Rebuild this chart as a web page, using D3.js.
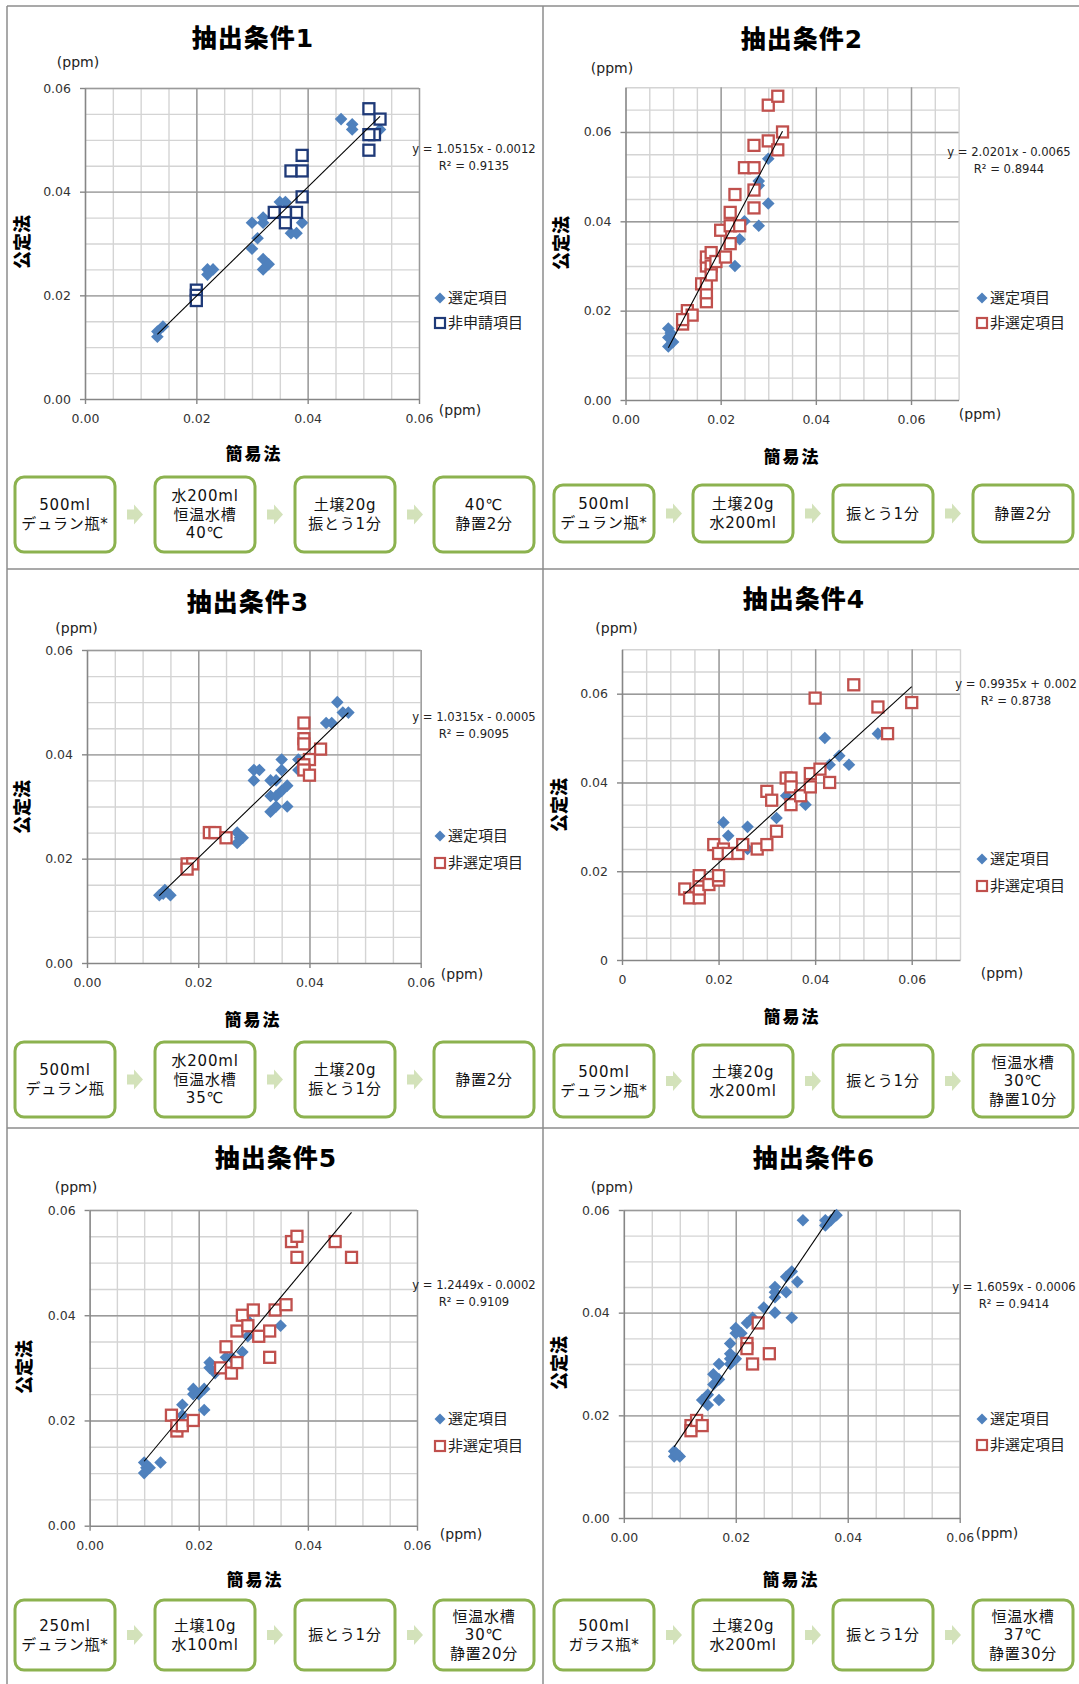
<!DOCTYPE html>
<html>
<head>
<meta charset="utf-8">
<script src="https://cdn.jsdelivr.net/npm/d3@7"></script>
<style>
  body { margin: 0; background: #fff; }
  svg text { font-family: "DejaVu Sans", "Noto Sans CJK JP", sans-serif; fill: #222; }
</style>
</head>
<body>
<svg id="chart" width="1079" height="1684"></svg>
<script>
// ---- data ----
const titles = ["抽出条件1", "抽出条件2", "抽出条件3", "抽出条件4", "抽出条件5", "抽出条件6"];
const otherNames = ["非申請項目", "非選定項目", "非選定項目", "非選定項目", "非選定項目", "非選定項目"];
const slopes = [1.0515, 2.0201, 1.0315, 0.9935, 1.2449, 1.6059];
const intercepts = [-0.0012, -0.0065, -0.0005, 0.002, -0.0002, -0.0006];
const eqLabels = ["y = 1.0515x - 0.0012", "y = 2.0201x - 0.0065", "y = 1.0315x - 0.0005",
  "y = 0.9935x + 0.002", "y = 1.2449x - 0.0002", "y = 1.6059x - 0.0006"];
const r2Labels = ["R² = 0.9135", "R² = 0.8944", "R² = 0.9095", "R² = 0.8738", "R² = 0.9109", "R² = 0.9414"];
const axisMax = [0.06, 0.07, 0.06, 0.07, 0.06, 0.06];

// [簡易法, 公定法] pairs (ppm)
const selected1 = [[0.013,0.012],[0.014,0.014],[0.013,0.013],[0.022,0.025],[0.023,0.025],[0.022,0.024],
  [0.030,0.029],[0.030,0.034],[0.031,0.031],[0.032,0.035],[0.032,0.034],[0.032,0.027],[0.033,0.026],
  [0.032,0.025],[0.035,0.038],[0.036,0.038],[0.037,0.032],[0.038,0.032],[0.039,0.034],[0.046,0.054],
  [0.048,0.053],[0.048,0.052],[0.053,0.052]];
const other1 = [[0.020,0.021],[0.020,0.020],[0.020,0.019],[0.034,0.036],[0.036,0.036],[0.038,0.036],
  [0.036,0.034],[0.037,0.044],[0.039,0.044],[0.039,0.047],[0.039,0.039],[0.051,0.056],[0.053,0.054],
  [0.052,0.051],[0.051,0.051],[0.051,0.048]];

const selected2 = [[0.009,0.012],[0.009,0.014],[0.009,0.016],[0.010,0.013],[0.0095,0.015],[0.023,0.030],
  [0.024,0.036],[0.025,0.040],[0.028,0.039],[0.028,0.049],[0.028,0.048],[0.030,0.044],[0.030,0.054]];
const other2 = [[0.012,0.017],[0.013,0.020],[0.014,0.019],[0.012,0.018],[0.016,0.026],[0.017,0.022],
  [0.017,0.024],[0.017,0.026],[0.017,0.030],[0.017,0.032],[0.018,0.033],[0.018,0.030],[0.018,0.028],
  [0.019,0.031],[0.021,0.032],[0.020,0.038],[0.022,0.035],[0.022,0.039],[0.022,0.042],[0.024,0.039],
  [0.023,0.046],[0.025,0.052],[0.027,0.052],[0.027,0.047],[0.027,0.043],[0.027,0.057],[0.030,0.058],
  [0.030,0.066],[0.032,0.068],[0.032,0.056],[0.033,0.060]];

const selected3 = [[0.013,0.013],[0.014,0.014],[0.015,0.013],[0.0137,0.0133],[0.027,0.025],[0.027,0.023],
  [0.028,0.024],[0.0275,0.024],[0.030,0.037],[0.031,0.037],[0.030,0.035],[0.033,0.035],[0.034,0.035],
  [0.033,0.032],[0.034,0.032],[0.033,0.029],[0.034,0.030],[0.035,0.039],[0.035,0.037],[0.035,0.033],
  [0.036,0.034],[0.036,0.030],[0.038,0.039],[0.038,0.037],[0.043,0.046],[0.044,0.046],[0.045,0.050],
  [0.046,0.048],[0.047,0.048]];
const other3 = [[0.018,0.019],[0.019,0.019],[0.018,0.018],[0.022,0.025],[0.023,0.025],[0.025,0.024],
  [0.039,0.046],[0.039,0.043],[0.039,0.042],[0.040,0.039],[0.039,0.038],[0.039,0.037],[0.040,0.036],
  [0.042,0.041]];

const selected4 = [[0.021,0.031],[0.022,0.028],[0.026,0.030],[0.026,0.025],[0.032,0.032],[0.034,0.037],
  [0.038,0.035],[0.042,0.050],[0.043,0.044],[0.045,0.046],[0.047,0.044],[0.053,0.051]];
const other4 = [[0.013,0.016],[0.014,0.014],[0.016,0.014],[0.016,0.016],[0.016,0.018],[0.016,0.019],
  [0.018,0.017],[0.020,0.018],[0.020,0.019],[0.019,0.026],[0.021,0.025],[0.020,0.024],[0.022,0.024],
  [0.024,0.024],[0.025,0.026],[0.028,0.025],[0.030,0.026],[0.032,0.029],[0.030,0.038],[0.031,0.036],
  [0.034,0.041],[0.035,0.041],[0.035,0.039],[0.035,0.035],[0.037,0.037],[0.039,0.042],[0.039,0.039],
  [0.041,0.043],[0.043,0.040],[0.040,0.059],[0.048,0.062],[0.053,0.057],[0.055,0.051],[0.060,0.058]];

const selected5 = [[0.010,0.010],[0.010,0.012],[0.0104,0.011],[0.011,0.011],[0.013,0.012],[0.017,0.023],
  [0.017,0.021],[0.019,0.026],[0.019,0.025],[0.020,0.025],[0.021,0.026],[0.021,0.022],[0.022,0.031],
  [0.022,0.030],[0.023,0.029],[0.025,0.032],[0.026,0.032],[0.028,0.033],[0.029,0.036],[0.029,0.039],
  [0.035,0.038]];
const other5 = [[0.015,0.021],[0.016,0.018],[0.016,0.019],[0.017,0.019],[0.019,0.020],[0.024,0.030],
  [0.025,0.034],[0.026,0.029],[0.027,0.031],[0.027,0.037],[0.028,0.040],[0.029,0.038],[0.030,0.041],
  [0.031,0.036],[0.033,0.037],[0.033,0.032],[0.034,0.041],[0.036,0.042],[0.037,0.054],[0.038,0.055],
  [0.038,0.051],[0.045,0.054],[0.048,0.051]];

const selected6 = [[0.009,0.012],[0.009,0.013],[0.010,0.012],[0.0094,0.0125],[0.014,0.023],[0.015,0.024],
  [0.015,0.022],[0.017,0.023],[0.016,0.028],[0.016,0.026],[0.017,0.027],[0.017,0.030],[0.019,0.031],
  [0.019,0.032],[0.019,0.030],[0.020,0.031],[0.019,0.034],[0.020,0.036],[0.020,0.037],[0.021,0.036],
  [0.022,0.038],[0.023,0.039],[0.025,0.041],[0.027,0.045],[0.027,0.044],[0.027,0.043],[0.027,0.040],
  [0.029,0.047],[0.030,0.048],[0.029,0.044],[0.030,0.039],[0.031,0.046],[0.032,0.058],[0.036,0.058],
  [0.036,0.057],[0.037,0.058],[0.038,0.059]];
const other6 = [[0.012,0.018],[0.012,0.017],[0.013,0.019],[0.014,0.018],[0.022,0.034],[0.022,0.033],
  [0.023,0.030],[0.024,0.038],[0.026,0.032]];

const selectedSets = [selected1, selected2, selected3, selected4, selected5, selected6];
const otherSets = [other1, other2, other3, other4, other5, other6];

// extraction steps (簡易法) under each chart
const steps1 = [["500ml", "デュラン瓶*"], ["水200ml", "恒温水槽", "40℃"], ["土壌20g", "振とう1分"], ["40℃", "静置2分"]];
const steps2 = [["500ml", "デュラン瓶*"], ["土壌20g", "水200ml"], ["振とう1分"], ["静置2分"]];
const steps3 = [["500ml", "デュラン瓶"], ["水200ml", "恒温水槽", "35℃"], ["土壌20g", "振とう1分"], ["静置2分"]];
const steps4 = [["500ml", "デュラン瓶*"], ["土壌20g", "水200ml"], ["振とう1分"], ["恒温水槽", "30℃", "静置10分"]];
const steps5 = [["250ml", "デュラン瓶*"], ["土壌10g", "水100ml"], ["振とう1分"], ["恒温水槽", "30℃", "静置20分"]];
const steps6 = [["500ml", "ガラス瓶*"], ["土壌20g", "水200ml"], ["振とう1分"], ["恒温水槽", "37℃", "静置30分"]];
const stepSets = [steps1, steps2, steps3, steps4, steps5, steps6];

// ---- layout (pixel positions per panel) ----
const leftBoxes = [15, 155, 295, 434], rightBoxes = [554, 693, 833, 973];
const layout = [
  { px: [85, 419], py: [88, 399], title: [253, 38.5], yUnit: [78, 62], xUnit: [460, 410], eq: [474, 149],
    legend: [440, 298, 323], yTitle: [22, 242], xTitle: [254, 454], bx: leftBoxes, by: 477, bh: 75 },
  { px: [625.5, 958.6], py: [87.3, 400], title: [802, 39], yUnit: [612, 68], xUnit: [980, 414], eq: [1009, 152],
    legend: [982, 298, 323], yTitle: [561, 243], xTitle: [792, 457], bx: rightBoxes, by: 485, bh: 57 },
  { px: [87, 420.7], py: [650, 963], title: [248, 602.5], yUnit: [76.5, 628], xUnit: [462, 974], eq: [474, 717],
    legend: [440, 836, 863], yTitle: [22, 807], xTitle: [253, 1020], bx: leftBoxes, by: 1042, bh: 75 },
  { px: [622, 960], py: [649.3, 960], title: [804, 599], yUnit: [616.5, 628], xUnit: [1002, 973], eq: [1016, 684],
    legend: [982, 859, 886], yTitle: [559, 805], xTitle: [792, 1017], bx: rightBoxes, by: 1045, bh: 72, zeroPlain: true },
  { px: [89.6, 417], py: [1210, 1525.7], title: [276, 1158], yUnit: [76, 1187], xUnit: [461, 1534], eq: [474, 1285],
    legend: [440, 1419, 1446], yTitle: [24, 1367], xTitle: [255, 1580], bx: leftBoxes, by: 1600, bh: 70 },
  { px: [623.8, 959.7], py: [1210, 1518], title: [814, 1158], yUnit: [612, 1187], xUnit: [997, 1533], eq: [1014, 1287],
    legend: [982, 1419, 1445], yTitle: [559, 1363], xTitle: [791, 1580], bx: rightBoxes, by: 1600, bh: 70 }
];

const blue = "#4F81BD", navy = "#1F3A78", red = "#C0504D";
const boxGreen = "#8CB24F", arrowGreen = "#D3E2BA";

const svg = d3.select("#chart");
svg.append("rect").attr("width", 1079).attr("height", 1684).attr("fill", "#fff");

// panel frame
const frame = svg.append("g").attr("stroke", "#8c8c8c").attr("stroke-width", 1.5);
frame.append("line").attr("x1", 7).attr("y1", 6).attr("x2", 1079).attr("y2", 6);
frame.append("line").attr("x1", 7).attr("y1", 6).attr("x2", 7).attr("y2", 1684);
frame.append("line").attr("x1", 543).attr("y1", 6).attr("x2", 543).attr("y2", 1684);
frame.append("line").attr("x1", 7).attr("y1", 569).attr("x2", 1079).attr("y2", 569);
frame.append("line").attr("x1", 7).attr("y1", 1128).attr("x2", 1079).attr("y2", 1128);

const diamond = r => `M0,${-r}L${r},0L0,${r}L${-r},0Z`;

function drawPanel(i) {
  const L = layout[i];
  const max = axisMax[i];
  const g = svg.append("g");
  const x = d3.scaleLinear().domain([0, max]).range(L.px);
  const y = d3.scaleLinear().domain([0, max]).range([L.py[1], L.py[0]]);
  const h = L.py[1] - L.py[0], w = L.px[1] - L.px[0];
  const minor = d3.range(0, max + 1e-9, 0.005).filter(v => v > 1e-9);
  const major = d3.range(0, max + 1e-9, 0.02);
  const fmt = v => (L.zeroPlain && v < 1e-9) ? "0" : d3.format(".2f")(v);

  // minor grid
  g.append("g").attr("transform", `translate(0,${L.py[1]})`)
    .call(d3.axisBottom(x).tickValues(minor).tickSize(-h).tickFormat(""))
    .call(s => s.select(".domain").remove())
    .selectAll("line").attr("stroke", "#d4d4d4").attr("stroke-width", 1.4);
  g.append("g").attr("transform", `translate(${L.px[0]},0)`)
    .call(d3.axisLeft(y).tickValues(minor).tickSize(-w).tickFormat(""))
    .call(s => s.select(".domain").remove())
    .selectAll("line").attr("stroke", "#d4d4d4").attr("stroke-width", 1.4);
  // major grid
  g.append("g").attr("transform", `translate(0,${L.py[1]})`)
    .call(d3.axisBottom(x).tickValues(major.slice(1)).tickSize(-h).tickFormat(""))
    .call(s => s.select(".domain").remove())
    .selectAll("line").attr("stroke", "#9a9a9a").attr("stroke-width", 1.4);
  g.append("g").attr("transform", `translate(${L.px[0]},0)`)
    .call(d3.axisLeft(y).tickValues(major.slice(1)).tickSize(-w).tickFormat(""))
    .call(s => s.select(".domain").remove())
    .selectAll("line").attr("stroke", "#9a9a9a").attr("stroke-width", 1.4);

  // axes
  const xAxis = g.append("g").attr("transform", `translate(0,${L.py[1]})`)
    .call(d3.axisBottom(x).tickValues(major).tickSize(5).tickPadding(10).tickFormat(fmt).tickSizeOuter(0));
  const yAxis = g.append("g").attr("transform", `translate(${L.px[0]},0)`)
    .call(d3.axisLeft(y).tickValues(major).tickSize(5).tickPadding(9).tickFormat(fmt).tickSizeOuter(0));
  [xAxis, yAxis].forEach(a => {
    a.select(".domain").attr("stroke", "#868686").attr("stroke-width", 1.6);
    a.selectAll(".tick line").attr("stroke", "#868686").attr("stroke-width", 1.4);
    a.selectAll("text").style("font-size", "12.5px").style("fill", "#333")
      .style("font-family", "'DejaVu Sans', sans-serif");
  });

  // markers
  const clipId = "clip" + i;
  g.append("clipPath").attr("id", clipId).append("rect")
    .attr("x", L.px[0]).attr("y", L.py[0]).attr("width", w).attr("height", h);

  g.append("g").selectAll("path").data(selectedSets[i]).join("path")
    .attr("d", diamond(6.3))
    .attr("transform", d => `translate(${x(d[0])},${y(d[1])})`)
    .attr("fill", blue);

  const sqColor = i === 0 ? navy : red;
  g.append("g").selectAll("rect").data(otherSets[i]).join("rect")
    .attr("x", d => x(d[0]) - 5.5).attr("y", d => y(d[1]) - 5.5)
    .attr("width", 11).attr("height", 11)
    .attr("fill", "#fff").attr("stroke", sqColor).attr("stroke-width", 2.3);

  // linear trendline over the full x range of both series
  const allX = selectedSets[i].concat(otherSets[i]).map(d => d[0]);
  const [x0, x1] = d3.extent(allX);
  g.append("line").attr("clip-path", `url(#${clipId})`)
    .attr("x1", x(x0)).attr("y1", y(slopes[i] * x0 + intercepts[i]))
    .attr("x2", x(x1)).attr("y2", y(slopes[i] * x1 + intercepts[i]))
    .attr("stroke", "#000").attr("stroke-width", 1.1);

  // equation
  g.append("text").attr("x", L.eq[0]).attr("y", L.eq[1]).attr("text-anchor", "middle")
    .attr("dominant-baseline", "central").style("font-size", "11.6px").text(eqLabels[i]);
  g.append("text").attr("x", L.eq[0]).attr("y", L.eq[1] + 17).attr("text-anchor", "middle")
    .attr("dominant-baseline", "central").style("font-size", "11.6px").text(r2Labels[i]);

  // legend
  g.append("path").attr("d", diamond(5.5))
    .attr("transform", `translate(${L.legend[0]},${L.legend[1]})`).attr("fill", blue);
  g.append("text").attr("x", L.legend[0] + 8).attr("y", L.legend[1]).attr("dominant-baseline", "central")
    .style("font-size", "15px").text("選定項目");
  g.append("rect").attr("x", L.legend[0] - 5).attr("y", L.legend[2] - 5).attr("width", 10).attr("height", 10)
    .attr("fill", "#fff").attr("stroke", sqColor).attr("stroke-width", 2.2);
  g.append("text").attr("x", L.legend[0] + 8).attr("y", L.legend[2]).attr("dominant-baseline", "central")
    .style("font-size", "15px").text(otherNames[i]);

  // titles and units
  g.append("text").attr("x", L.title[0]).attr("y", L.title[1]).attr("text-anchor", "middle")
    .attr("dominant-baseline", "central").style("font-size", "25px").style("font-weight", "900")
    .style("letter-spacing", "1px").style("fill", "#000").text(titles[i]);
  g.append("text").attr("x", L.yUnit[0]).attr("y", L.yUnit[1]).attr("text-anchor", "middle")
    .attr("dominant-baseline", "central").style("font-size", "14px").text("(ppm)");
  g.append("text").attr("x", L.xUnit[0]).attr("y", L.xUnit[1]).attr("text-anchor", "middle")
    .attr("dominant-baseline", "central").style("font-size", "14px").text("(ppm)");
  g.append("text").attr("transform", `translate(${L.yTitle[0]},${L.yTitle[1]}) rotate(-90)`)
    .attr("text-anchor", "middle").attr("dominant-baseline", "central")
    .style("font-size", "18px").style("font-weight", "900").style("fill", "#000").text("公定法");
  g.append("text").attr("x", L.xTitle[0]).attr("y", L.xTitle[1]).attr("text-anchor", "middle")
    .attr("dominant-baseline", "central").style("font-size", "17px").style("font-weight", "900")
    .style("letter-spacing", "2px").style("fill", "#000").text("簡易法");

  // flow of the simple method
  const steps = stepSets[i];
  const bw = 100, cy = L.by + L.bh / 2;
  steps.forEach((lines, k) => {
    const bx = L.bx[k];
    g.append("rect").attr("x", bx).attr("y", L.by).attr("width", bw).attr("height", L.bh)
      .attr("rx", 9).attr("fill", "#fff").attr("stroke", boxGreen).attr("stroke-width", 3);
    const lh = lines.length === 3 ? 18.5 : 19;
    lines.forEach((t, j) => {
      g.append("text").attr("x", bx + bw / 2).attr("y", cy + (j - (lines.length - 1) / 2) * lh)
        .attr("text-anchor", "middle").attr("dominant-baseline", "central")
        .style("font-size", "15px").style("letter-spacing", "0.8px").style("fill", "#111").text(t);
    });
    if (k < steps.length - 1) {
      const ax = bx + bw + 12, al = 16;
      const p = d3.path();
      p.moveTo(ax, cy - 5); p.lineTo(ax + 7, cy - 5); p.lineTo(ax + 7, cy - 10);
      p.lineTo(ax + al, cy); p.lineTo(ax + 7, cy + 10); p.lineTo(ax + 7, cy + 5);
      p.lineTo(ax, cy + 5); p.closePath();
      g.append("path").attr("d", p.toString()).attr("fill", arrowGreen);
    }
  });
}

for (let i = 0; i < 6; i++) drawPanel(i);
</script>
</body>
</html>
